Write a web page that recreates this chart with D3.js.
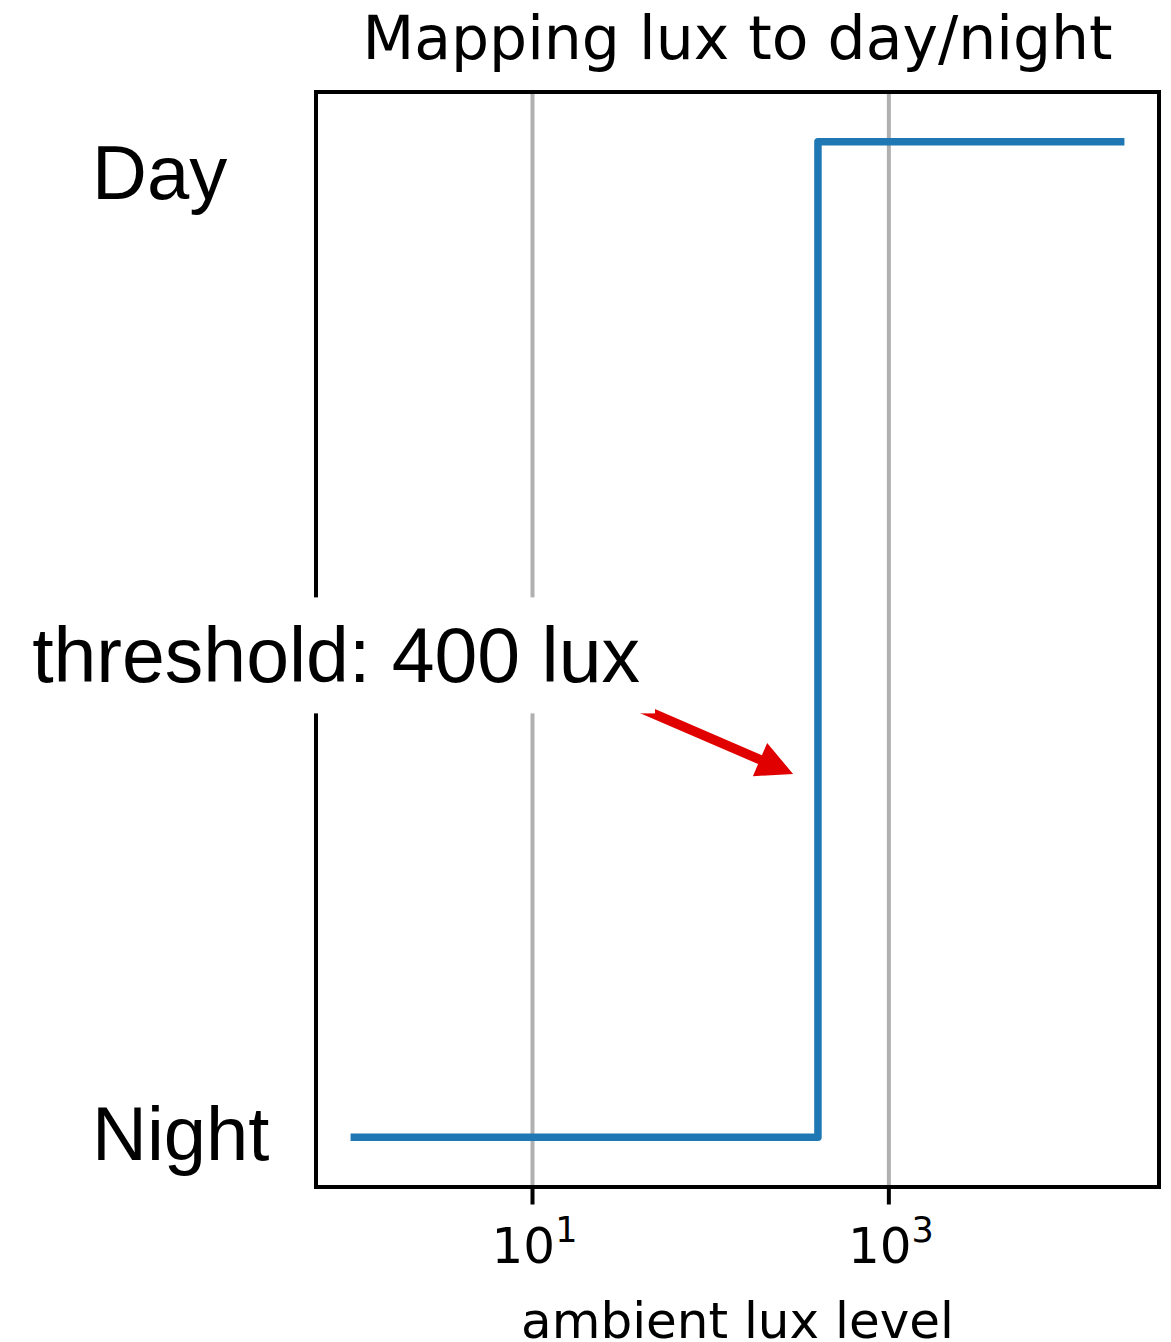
<!DOCTYPE html>
<html>
<head>
<meta charset="utf-8">
<script src="https://cdn.jsdelivr.net/npm/d3@7"></script>
<style>
    html, body { margin: 0; padding: 0; background: #fff; }
    svg { display: block; }
</style>
</head>
<body>
<div id="chart"></div>
<script>
'use strict';

/* global d3 */

// data
var luxValues = [1, 400, 20000];
var dayNight = [0, 1, 1];
var stateLabels = ["Night", "Day"];
var xTickValues = [10, 1000];
var xTickExponents = ["1", "3"];
var titleText = "Mapping lux to day/night";
var xLabelText = "ambient lux level";
var annotText = "threshold: 400 lux";
var annotTextAt = [0.79, 0.484];  // lux, state
var annotFromAt = [31, 0.44];     // arrow tail, hidden under text box
var annotTipAt = [290, 0.365];    // arrow tip

var WIDTH = 1171, HEIGHT = 1342;
var margin = {top: 92, right: 12, bottom: 155, left: 316};
var PT = 5; // px per point

var svg = d3.select("#chart").append("svg")
    .attr("width", WIDTH)
    .attr("height", HEIGHT);

var innerW = WIDTH - margin.left - margin.right;
var innerH = HEIGHT - margin.top - margin.bottom;

// log x with matplotlib-like 5% margins
var logMin = Math.log10(d3.min(luxValues));
var logMax = Math.log10(d3.max(luxValues));
var pad = (logMax - logMin) * 0.05;
var x = d3.scaleLog()
    .domain([Math.pow(10, logMin - pad), Math.pow(10, logMax + pad)])
    .range([margin.left, margin.left + innerW]);

var y = d3.scaleLinear()
    .domain([-0.05, 1.05])
    .range([margin.top + innerH, margin.top]);

// grid
svg.append("g").attr("class", "grid")
    .selectAll("line")
    .data(xTickValues)
    .enter().append("line")
    .attr("x1", function (d) { return x(d); })
    .attr("x2", function (d) { return x(d); })
    .attr("y1", margin.top)
    .attr("y2", margin.top + innerH)
    .style("stroke", "#b0b0b0")
    .style("stroke-width", 0.8 * PT);

// step line
var points = luxValues.map(function (v, i) {
    return {lux: v, state: dayNight[i]};
});
var line = d3.line()
    .x(function (d) { return x(d.lux); })
    .y(function (d) { return y(d.state); })
    .curve(d3.curveStepAfter);

svg.append("path")
    .datum(points)
    .attr("d", line)
    .style("fill", "none")
    .style("stroke", "#1f77b4")
    .style("stroke-width", 1.5 * PT)
    .style("stroke-linejoin", "round")
    .style("stroke-linecap", "square");

// frame
svg.append("rect")
    .attr("x", margin.left)
    .attr("y", margin.top)
    .attr("width", innerW)
    .attr("height", innerH)
    .style("fill", "none")
    .style("stroke", "#000")
    .style("stroke-width", 0.8 * PT);

// x ticks
var gTicks = svg.append("g").attr("class", "xticks");
var tick = gTicks.selectAll("g.tick")
    .data(xTickValues)
    .enter().append("g")
    .attr("class", "tick")
    .attr("transform", function (d) {
        return "translate(" + x(d) + "," + (margin.top + innerH) + ")";
    });
tick.append("line")
    .attr("y1", 0)
    .attr("y2", 3.5 * PT)
    .style("stroke", "#000")
    .style("stroke-width", 0.8 * PT);
var tickText = tick.append("text")
    .attr("y", 76)
    .attr("x", 2)
    .style("font-family", "DejaVu Sans")
    .style("font-size", "50px")
    .style("text-anchor", "middle");
tickText.append("tspan").text("10");
tickText.append("tspan")
    .attr("dy", -21)
    .style("font-size", "35px")
    .text(function (d, i) { return xTickExponents[i]; });

// axis label + title
svg.append("text")
    .attr("x", margin.left + innerW / 2)
    .attr("y", 1338)
    .style("font-family", "DejaVu Sans")
    .style("font-size", "50px")
    .style("text-anchor", "middle")
    .text(xLabelText);

svg.append("text")
    .attr("x", margin.left + innerW / 2)
    .attr("y", 59)
    .style("font-family", "DejaVu Sans")
    .style("font-size", "60px")
    .style("text-anchor", "middle")
    .text(titleText);

// Day / Night labels
var stateOffsets = [23, 57];
svg.append("g").selectAll("text")
    .data(stateLabels)
    .enter().append("text")
    .attr("x", 92)
    .attr("y", function (d, i) { return y(i) + stateOffsets[i]; })
    .style("font-family", "Liberation Sans, Arial, sans-serif")
    .style("font-size", "76px")
    .text(function (d) { return d; });

// annotation arrow
var sx = x(annotFromAt[0]), sy = y(annotFromAt[1]);
var tx = x(annotTipAt[0]), ty = y(annotTipAt[1]);
var len = Math.hypot(tx - sx, ty - sy);
var ux = (tx - sx) / len, uy = (ty - sy) / len;
var nx = -uy, ny = ux;
var headLen = 36, headHalf = 18, shaftHalf = 4.8;
var bx = tx - ux * headLen, by = ty - uy * headLen;
var arrowPts = [
    [sx + nx * shaftHalf, sy + ny * shaftHalf],
    [bx + nx * shaftHalf, by + ny * shaftHalf],
    [bx + nx * headHalf, by + ny * headHalf],
    [tx, ty],
    [bx - nx * headHalf, by - ny * headHalf],
    [bx - nx * shaftHalf, by - ny * shaftHalf],
    [sx - nx * shaftHalf, sy - ny * shaftHalf]
];
svg.append("path")
    .attr("d", d3.line()(arrowPts) + "Z")
    .style("fill", "#e00000")
    .style("stroke", "none");

// annotation text with white box
var gAnnot = svg.append("g");
var boxRect = gAnnot.append("rect").style("fill", "#fff");
var annot = gAnnot.append("text")
    .attr("x", x(annotTextAt[0]))
    .attr("y", y(annotTextAt[1]))
    .attr("dy", "0.35em")
    .style("font-family", "Liberation Sans, Arial, sans-serif")
    .style("font-size", "77px")
    .style("text-anchor", "middle")
    .text(annotText);
var bb = annot.node().getBBox();
var boxPad = 15;
boxRect
    .attr("x", bb.x - boxPad)
    .attr("y", bb.y - boxPad)
    .attr("width", bb.width + 2 * boxPad)
    .attr("height", bb.height + 2 * boxPad);
</script>
</body>
</html>
